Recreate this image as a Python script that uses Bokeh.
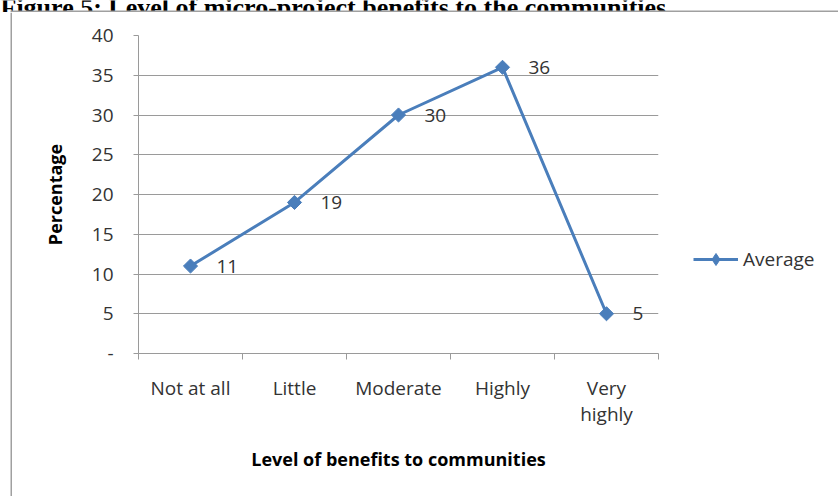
import numpy as np
from bokeh.plotting import figure
from bokeh.layouts import column, row
from bokeh.models import FixedTicker, Range1d, Label, Legend, LegendItem, BoxAnnotation
from bokeh.core.properties import value
from bokeh.embed import file_html
from bokeh.resources import INLINE

# Survey responses: level of micro-project benefits (percentage of respondents)
categories = ["Not at all", "Little", "Moderate", "Highly", "Very\nhighly"]
average = [11, 19, 30, 36, 5]
y_ticks = [0, 5, 10, 15, 20, 25, 30, 35, 40]
series_name = "Average"

FONT = "Open Sans"
BLUE = "#4a7ebb"
GRID = "#9a9a9a"
BOX = "#a0a0a0"
TEXT = "#333333"
FS = "19px"

xs = list(range(1, len(categories) + 1))


def blank(width, height):
    """A plain drawing strip whose frame fills the whole canvas (pixel coordinates)."""
    f = figure(width=width, height=height, output_backend="svg", toolbar_location=None,
               x_range=Range1d(0, width), y_range=Range1d(0, height),
               min_border=0, min_border_left=0, min_border_right=0,
               min_border_top=0, min_border_bottom=0)
    f.axis.visible = False
    f.grid.visible = False
    f.outline_line_color = None
    f.frame_align = False
    return f


# caption strip (only the lower part of the caption fits) with the top edge of the chart box
cap = blank(838, 12)
cap.add_layout(Label(x=0, y=5, text="Figure 5:  Level of micro-project benefits to the communities",
                     text_font="Liberation Serif", text_font_style="bold",
                     text_font_size="26px", text_color="black",
                     text_baseline="alphabetic", text_align="left"))
cap.add_layout(BoxAnnotation(left=10, bottom=0, top=2, fill_color=BOX, fill_alpha=1, line_color=None))

# left edge of the chart box
edge = blank(12, 484)
edge.add_layout(BoxAnnotation(left=10, right=12, fill_color=BOX, fill_alpha=1, line_color=None))

# main chart
p = figure(width=666, height=484, output_backend="svg", toolbar_location=None,
           x_range=Range1d(0.5, len(categories) + 0.5), y_range=Range1d(0, 40),
           min_border_left=126, min_border_right=20, min_border_top=23, min_border_bottom=143)
p.frame_align = False
p.outline_line_color = None
p.background_fill_color = "white"
p.border_fill_color = "white"

# x axis: labels at category centres, tick marks on the category boundaries
p.xaxis.ticker = FixedTicker(ticks=xs, minor_ticks=[x - 0.5 for x in xs] + [xs[-1] + 0.5])
p.xaxis.major_label_overrides = {x: c for x, c in zip(xs, categories)}
p.xaxis.major_tick_line_color = None
p.xaxis.minor_tick_in = 0
p.xaxis.minor_tick_out = 6
p.xaxis.minor_tick_line_color = GRID
p.xaxis.axis_line_color = GRID
p.xaxis.major_label_standoff = 15
p.xaxis.major_label_text_font = FONT
p.xaxis.major_label_text_font_size = FS
p.xaxis.major_label_text_line_height = 1.0
p.xaxis.major_label_text_color = TEXT
p.xaxis.axis_label = "Level of benefits to communities"
p.xaxis.axis_label_text_font = FONT
p.xaxis.axis_label_text_font_style = "bold"
p.xaxis.axis_label_text_font_size = "18px"
p.xaxis.axis_label_text_color = "black"
p.xaxis.axis_label_standoff = 17
p.xgrid.visible = False

# y axis
p.yaxis.ticker = FixedTicker(ticks=y_ticks)
p.yaxis.major_label_overrides = {0: "-"}
p.yaxis.major_tick_in = 0
p.yaxis.major_tick_out = 5
p.yaxis.major_tick_line_color = GRID
p.yaxis.minor_tick_line_color = None
p.yaxis.axis_line_color = GRID
p.yaxis.major_label_standoff = 20
p.yaxis.major_label_text_font = FONT
p.yaxis.major_label_text_font_size = FS
p.yaxis.major_label_text_color = TEXT
p.yaxis.axis_label = "Percentage"
p.yaxis.axis_label_text_font = FONT
p.yaxis.axis_label_text_font_style = "bold"
p.yaxis.axis_label_text_font_size = "18px"
p.yaxis.axis_label_text_color = "black"
p.yaxis.axis_label_standoff = 22
p.ygrid.grid_line_color = GRID
p.ygrid.grid_line_width = 1

# series
p.line(xs, average, line_color=BLUE, line_width=3)
p.scatter(xs, average, marker="square", angle=np.pi / 4, size=10,
          fill_color=BLUE, line_color=BLUE)

# value labels beside each point
p.text(xs, average, text=[str(v) for v in average], x_offset=26,
       text_align="left", text_baseline="middle",
       text_font=value(FONT), text_font_size=FS, text_color=TEXT)

# legend strip to the right of the chart: hidden copies of the series supply the key samples
lg = blank(160, 484)
key_line = lg.line(xs, average, line_color=BLUE, line_width=3, visible=False)
key_mark = lg.scatter(xs, average, marker="diamond", size=13,
                      fill_color=BLUE, line_color=BLUE, visible=False)
legend = Legend(items=[LegendItem(label=series_name, renderers=[key_line, key_mark])],
                location=(15, 222), glyph_width=45, glyph_height=30, label_height=30,
                label_standoff=5, padding=0, margin=0, spacing=0,
                border_line_color=None, background_fill_alpha=0,
                inactive_fill_alpha=0,
                label_text_font=FONT, label_text_font_size=FS, label_text_color=TEXT)
lg.add_layout(legend, "center")

page = column(cap, row(edge, p, lg, spacing=0), spacing=0)
open("out.html", "w").write(file_html(page, INLINE))
